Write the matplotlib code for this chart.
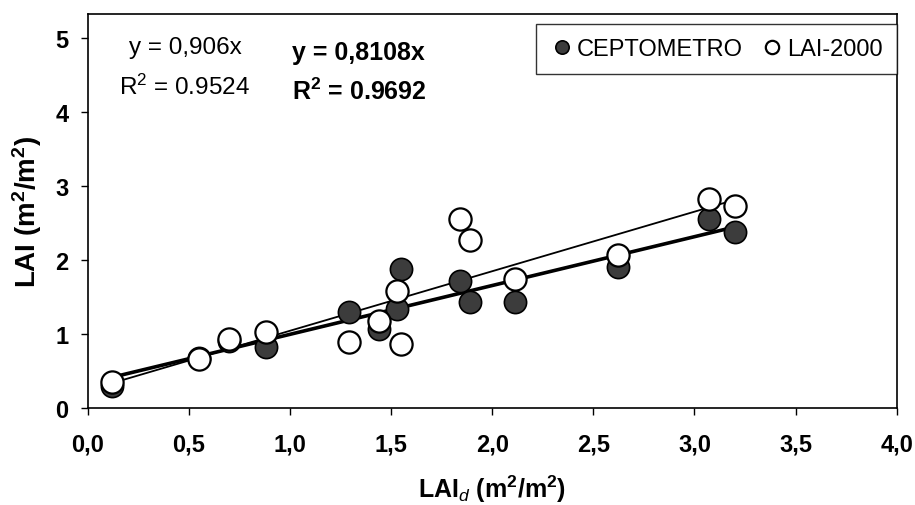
import numpy as np
import matplotlib
matplotlib.use("Agg")
import matplotlib.pyplot as plt
from matplotlib.ticker import FuncFormatter, MultipleLocator

plt.rcParams['font.family'] = ['Liberation Sans', 'DejaVu Sans']
plt.rcParams['mathtext.fontset'] = 'custom'
plt.rcParams['mathtext.rm'] = 'Liberation Sans'
plt.rcParams['mathtext.bf'] = 'Liberation Sans:bold'
plt.rcParams['mathtext.it'] = 'Liberation Sans:italic'

# LAI direct (destructive) measurements
lai_d = [0.12, 0.55, 0.70, 0.88, 1.29, 1.44, 1.53, 1.55, 1.84, 1.89, 2.11, 2.62, 3.07, 3.20]
# estimated LAI from each instrument
ceptometro = [0.30, 0.68, 0.90, 0.82, 1.30, 1.07, 1.34, 1.88, 1.72, 1.43, 1.43, 1.91, 2.55, 2.38]
lai2000 = [0.35, 0.66, 0.93, 1.03, 0.89, 1.18, 1.58, 0.86, 2.55, 2.27, 1.74, 2.07, 2.82, 2.73]

x = np.array(lai_d)
yc = np.array(ceptometro)
yl = np.array(lai2000)

fig = plt.figure(figsize=(9.15, 5.06), dpi=100)
ax = fig.add_axes([0.096, 0.192, 0.884, 0.778])

# trend lines
xx = np.array([x.min(), x.max()])
pc = np.polyfit(x, yc, 1)
pl = np.polyfit(x, yl, 1)
ax.plot(xx, np.polyval(pl, xx), color='black', lw=1.3, zorder=2)
ax.plot(xx, np.polyval(pc, xx), color='black', lw=2.6, zorder=2)

ax.plot(x, yc, 'o', ms=16, mfc='#3c3c3c', mec='black', mew=1.2, zorder=3, label='CEPTOMETRO')
ax.plot(x, yl, 'o', ms=16, mfc='white', mec='black', mew=1.6, zorder=4, label='LAI-2000')

ax.set_xlim(0, 4.0)
ax.set_ylim(0, 5.32)
ax.xaxis.set_major_locator(MultipleLocator(0.5))
ax.yaxis.set_major_locator(MultipleLocator(1))
ax.xaxis.set_major_formatter(FuncFormatter(lambda v, p: ('%.1f' % v).replace('.', ',')))
ax.tick_params(direction='out', length=5, width=1, labelsize=17)
ax.tick_params(axis='x', pad=13)
ax.tick_params(axis='y', pad=9)
for lab in ax.get_xticklabels() + ax.get_yticklabels():
    lab.set_fontweight('bold')
for s in ax.spines.values():
    s.set_linewidth(1.2)

ax.set_xlabel(r'LAI$_{\mathit{d}}$ (m$^{\mathbf{2}}$/m$^{\mathbf{2}}$)', fontsize=18, fontweight='bold', labelpad=12)
ax.set_ylabel(r'LAI (m$^{\mathbf{2}}$/m$^{\mathbf{2}}$)', fontsize=20, fontweight='bold', labelpad=8)

ax.text(0.48, 4.88, 'y = 0,906x', fontsize=17.5, ha='center', va='center')
ax.text(0.48, 4.35, r'R$^2$ = 0.9524', fontsize=17.5, ha='center', va='center')
ax.text(1.01, 4.81, 'y = 0,8108x', fontsize=18, fontweight='bold', ha='left', va='center')
ax.text(1.01, 4.28, r'R$^{\mathbf{2}}$ = 0.9692', fontsize=18, fontweight='bold', ha='left', va='center')

leg = ax.legend(loc='upper right', bbox_to_anchor=(1.0, 0.975), ncol=2, fontsize=17,
                markerscale=0.6, handletextpad=0.15, columnspacing=0.7, handlelength=1.0,
                borderpad=0.6, borderaxespad=0.0, frameon=True, fancybox=False)
leg.get_frame().set_edgecolor('black')
leg.get_frame().set_linewidth(1.0)

fig.savefig('out.png', dpi=100)
